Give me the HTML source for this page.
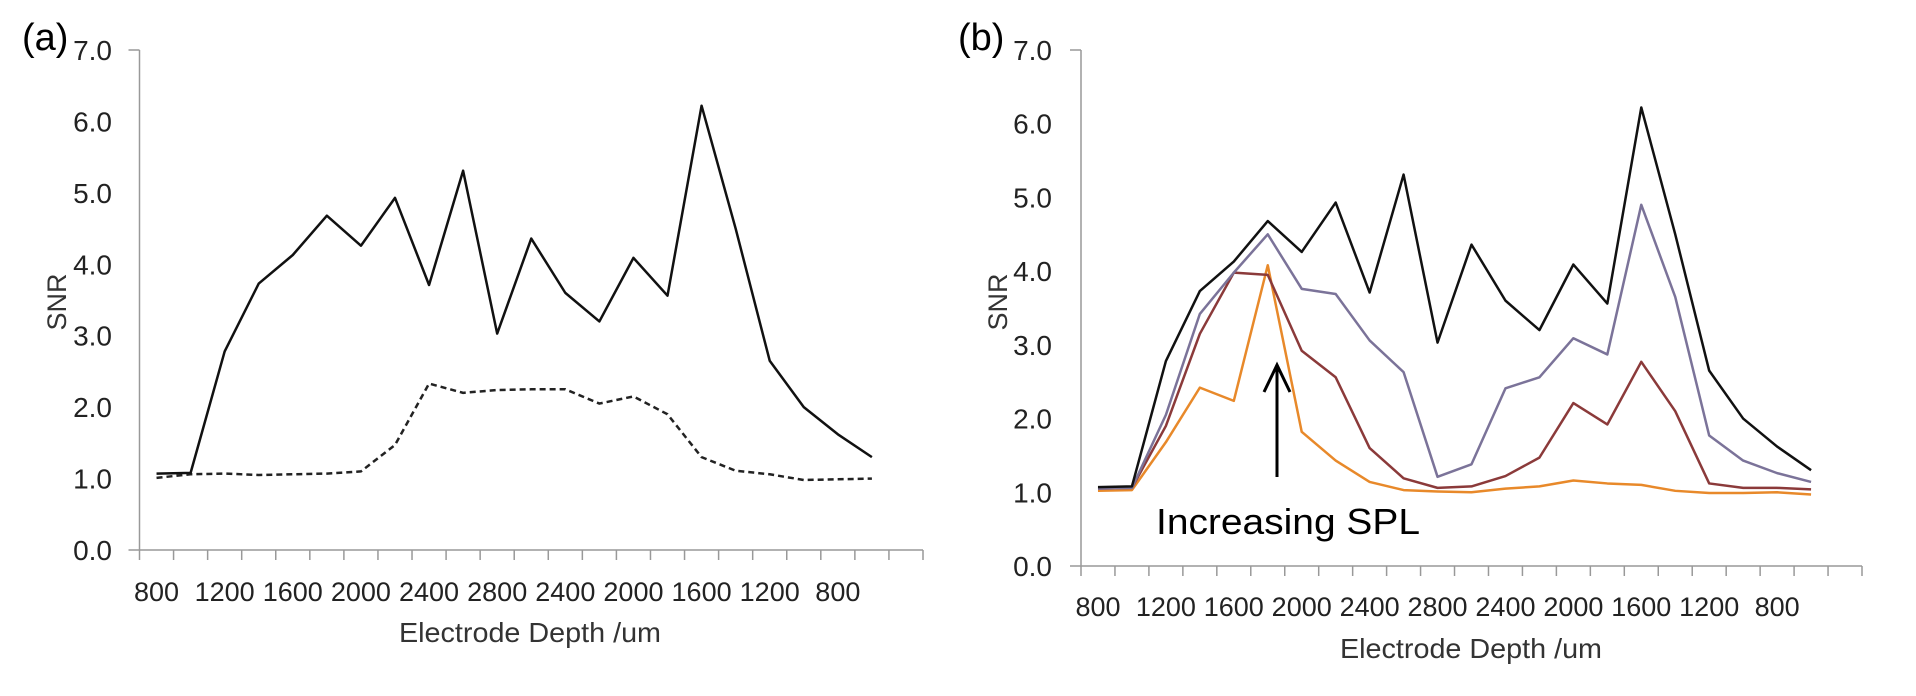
<!DOCTYPE html>
<html><head><meta charset="utf-8"><style>
html,body{margin:0;padding:0;background:#fff;}
svg{display:block;font-family:"Liberation Sans",sans-serif;}
</style></head><body>
<svg id="fig" width="1916" height="696" viewBox="0 0 1916 696"></svg>
<script>
const categoryLabels = ["800","","1200","","1600","","2000","","2400","","2800","","2400","","2000","","1600","","1200","","800","",""];
const seriesA_solid = [1.07,1.08,2.78,3.73,4.13,4.68,4.26,4.93,3.71,5.31,3.03,4.36,3.60,3.20,4.09,3.56,6.22,4.50,2.65,2.00,1.62,1.30];
const seriesA_dashed = [1.01,1.06,1.07,1.05,1.06,1.07,1.10,1.47,2.33,2.20,2.24,2.25,2.25,2.05,2.15,1.90,1.30,1.11,1.06,0.98,0.99,1.00];
const seriesB_black = [1.07,1.08,2.78,3.73,4.13,4.68,4.26,4.93,3.71,5.31,3.03,4.36,3.60,3.20,4.09,3.56,6.22,4.50,2.65,2.00,1.62,1.30];
const seriesB_purple = [1.05,1.06,2.05,3.42,3.98,4.50,3.76,3.69,3.06,2.63,1.21,1.38,2.41,2.56,3.09,2.87,4.90,3.65,1.77,1.43,1.26,1.14];
const seriesB_red = [1.05,1.06,1.90,3.15,3.98,3.95,2.92,2.56,1.60,1.19,1.06,1.08,1.22,1.47,2.21,1.92,2.77,2.10,1.12,1.06,1.06,1.04];
const seriesB_orange = [1.02,1.03,1.68,2.42,2.24,4.08,1.82,1.43,1.14,1.03,1.01,1.00,1.05,1.08,1.16,1.12,1.10,1.02,0.99,0.99,1.00,0.97];
const yTicks = [0,1,2,3,4,5,6,7];

const NS="http://www.w3.org/2000/svg";
const svg=document.getElementById('fig');
function mk(tag,attrs,parent){const e=document.createElementNS(NS,tag);for(const k in attrs)e.setAttribute(k,attrs[k]);(parent||svg).appendChild(e);return e;}

function panel(cfg){
  const g=mk('g',{});
  
  
  const n=categoryLabels.length;
  const bw=(cfg.x1-cfg.x0)/n;
  const X=i=>cfg.x0+(i+0.5)*bw;
  const Y=v=>cfg.y0-(v/7)*(cfg.y0-cfg.y7);
  const ya=mk('line',{x1:cfg.x0,y1:cfg.y7,x2:cfg.x0,y2:cfg.y0,stroke:'#999','stroke-width':1.5},g);
  
  
  const xa=mk('line',{x1:cfg.x0-11,y1:cfg.y0,x2:cfg.x1,y2:cfg.y0,stroke:'#999','stroke-width':1.5},g);
  
  
  mk('line',{x1:cfg.x0-11,y1:cfg.y7,x2:cfg.x0,y2:cfg.y7,stroke:'#999','stroke-width':1.5},g);
  for(let i=0;i<=n;i++){
    mk('line',{x1:cfg.x0+i*bw,y1:cfg.y0,x2:cfg.x0+i*bw,y2:cfg.y0+10,stroke:'#999','stroke-width':1.5},g);
  }
  yTicks.forEach(v=>{
    const t=mk('text',{x:cfg.ylx,y:Y(v)+10,'text-anchor':'end','font-size':28,fill:'#222'},g);
    t.textContent=v.toFixed(1);
    
    
  });
  categoryLabels.forEach((l,i)=>{
    if(!l)return;
    const t=mk('text',{x:X(i),y:cfg.tly,'text-anchor':'middle','font-size':27,fill:'#222'},g);
    t.textContent=l;
    
    
  });
  const xt=mk('text',{x:cfg.xtx,y:cfg.xty,'text-anchor':'middle','font-size':28,fill:'#333',textLength:262,lengthAdjust:'spacingAndGlyphs'},g);
  xt.textContent='Electrode Depth /um';
  
  
  const yt=mk('text',{x:0,y:0,'text-anchor':'middle','font-size':27,fill:'#333',transform:`translate(${cfg.snrx},302) rotate(-90)`},g);
  yt.textContent='SNR';
  
  
  const pl=mk('text',{x:cfg.plx,y:50,'font-size':38,fill:'#000'},g);
  pl.textContent=cfg.label;
  
  
  cfg.series.forEach(s=>{
    const p=mk('polyline',{points:s.data.map((v,i)=>X(i)+','+Y(v)).join(' '),fill:'none',stroke:s.color,'stroke-width':2.5,'stroke-linejoin':'round'},g);
    if(s.dash)p.setAttribute('stroke-dasharray','6,4');
    
    
  });
  return {X,Y};
}

panel({name:'panel-a',label:'(a)',plx:22,x0:139.5,x1:923,y0:550,y7:50,ylx:112,tly:601,xtx:530,xty:642,snrx:66,
  series:[{data:seriesA_dashed,color:'#222',dash:true,name:'line-dashed'},{data:seriesA_solid,color:'#111',name:'line-solid'}]});
panel({name:'panel-b',label:'(b)',plx:958,x0:1081,x1:1862,y0:566,y7:50,ylx:1052,tly:616,xtx:1471,xty:658,snrx:1007,
  series:[{data:seriesB_orange,color:'#e8892a',name:'line-orange'},{data:seriesB_red,color:'#8b3a3a',name:'line-red'},{data:seriesB_purple,color:'#7b7399',name:'line-purple'},{data:seriesB_black,color:'#111',name:'line-black'}]});

const arr=mk('g',{});


mk('line',{x1:1277,y1:477,x2:1277,y2:366,stroke:'#000','stroke-width':3},arr);
mk('polyline',{points:'1264,392 1277,365 1290,392',fill:'none',stroke:'#000','stroke-width':3},arr);
const ann=mk('text',{x:1156,y:534,'font-size':36,fill:'#000',textLength:264,lengthAdjust:'spacingAndGlyphs'});
ann.textContent='Increasing SPL';


</script>
</body></html>
